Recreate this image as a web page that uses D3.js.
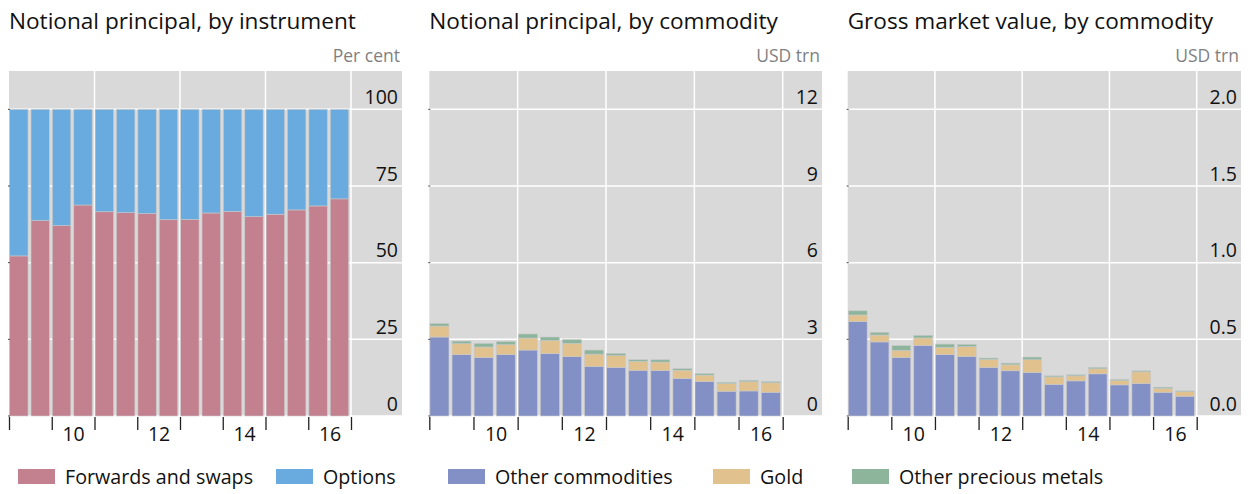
<!DOCTYPE html>
<html>
<head>
<meta charset="utf-8">
<script src="https://cdn.jsdelivr.net/npm/d3@7/dist/d3.min.js"></script>
<style>
  html, body { margin: 0; padding: 0; background: #ffffff; }
  svg { display: block; }
  text { font-family: "Open Sans", "Noto Sans", sans-serif; }
</style>
</head>
<body>
<svg id="chart" width="1252" height="494"></svg>
<script>
// ---------------- DATA ----------------
const periods = ["2009H1","2009H2","2010H1","2010H2","2011H1","2011H2","2012H1","2012H2",
                 "2013H1","2013H2","2014H1","2014H2","2015H1","2015H2","2016H1","2016H2"];

// Panel 1: notional principal by instrument, per cent
const forwardsSwaps = [52.2, 63.7, 62.1, 68.8, 66.6, 66.3, 66.0, 64.0, 64.1, 66.2, 66.7, 65.0, 65.8, 67.2, 68.5, 70.8];
const options       = [47.8, 36.3, 37.9, 31.2, 33.4, 33.7, 34.0, 36.0, 35.9, 33.8, 33.3, 35.0, 34.2, 32.8, 31.5, 29.2];

// Panel 2: notional principal by commodity, USD trn
const npOther   = [3.09, 2.40, 2.29, 2.40, 2.58, 2.44, 2.32, 1.94, 1.90, 1.79, 1.78, 1.47, 1.35, 0.97, 0.98, 0.93];
const npGold    = [0.43, 0.43, 0.41, 0.39, 0.47, 0.51, 0.52, 0.48, 0.46, 0.35, 0.33, 0.32, 0.25, 0.30, 0.36, 0.37];
const npPrec    = [0.10, 0.10, 0.14, 0.12, 0.16, 0.14, 0.15, 0.16, 0.09, 0.06, 0.09, 0.06, 0.06, 0.05, 0.06, 0.05];

// Panel 3: gross market value by commodity, USD trn
const gmOther   = [0.616, 0.483, 0.382, 0.461, 0.400, 0.389, 0.317, 0.295, 0.284, 0.207, 0.229, 0.275, 0.203, 0.212, 0.155, 0.129];
const gmGold    = [0.043, 0.045, 0.046, 0.048, 0.048, 0.063, 0.052, 0.039, 0.083, 0.048, 0.033, 0.033, 0.028, 0.076, 0.024, 0.030];
const gmPrec    = [0.027, 0.018, 0.031, 0.017, 0.021, 0.015, 0.009, 0.011, 0.017, 0.007, 0.007, 0.009, 0.007, 0.007, 0.009, 0.005];

const yTicks1 = [0, 25, 50, 75, 100];
const yTicks2 = [0, 3, 6, 9, 12];
const yTicks3 = [0, 0.5, 1.0, 1.5, 2.0];
const yLabels3 = ["0.0", "0.5", "1.0", "1.5", "2.0"];
const xTickYears  = [2009, 2010, 2011, 2012, 2013, 2014, 2015, 2016, 2017];
const xGridYears  = [2011, 2013, 2015, 2017];
const xLabelYears = [2010, 2012, 2014, 2016];
const xLabels     = ["10", "12", "14", "16"];

const titles = ["Notional principal, by instrument", "Notional principal, by commodity", "Gross market value, by commodity"];
const units  = ["Per cent", "USD trn", "USD trn"];

const seriesNames1 = ["Forwards and swaps", "Options"];
const seriesNames2 = ["Other commodities", "Gold", "Other precious metals"];

// ---------------- STYLE ----------------
const colors = {
  "Forwards and swaps": "#c38190",
  "Options": "#6aabdf",
  "Other commodities": "#8390c5",
  "Gold": "#e1c28f",
  "Other precious metals": "#8cb59c"
};
const bg = "#d9d9d9";

const svg = d3.select("#chart");

const panelTop = 71, panelBottom = 416;

function periodValue(p) {
  const yr = +p.slice(0, 4);
  const h = +p.slice(5);
  return yr + (h - 1) * 0.5;
}

function drawPanel(cfg) {
  const g = svg.append("g");
  const x = d3.scaleLinear().domain([2009, 2017]).range([cfg.left, cfg.dataRight]);
  const y = d3.scaleLinear().domain([0, cfg.yMax]).range([panelBottom, panelTop]);

  // Title
  g.append("text").attr("x", cfg.left).attr("y", 28.5)
    .attr("font-size", 22.6).attr("fill", "#111").text(cfg.title);
  // Unit label
  g.append("text").attr("x", cfg.right - 2).attr("y", 62)
    .attr("text-anchor", "end").attr("font-size", 17.5).attr("fill", "#7f7f7f").text(cfg.unit);

  // Background
  g.append("rect").attr("x", cfg.left).attr("y", panelTop)
    .attr("width", cfg.right - cfg.left).attr("height", panelBottom - panelTop).attr("fill", bg);

  // Horizontal gridlines
  g.selectAll(".hgrid").data(cfg.yTicks).enter().append("line")
    .attr("x1", cfg.left).attr("x2", cfg.right)
    .attr("y1", d => y(d)).attr("y2", d => y(d))
    .attr("stroke", "#ffffff").attr("stroke-width", 1.5);
  // Vertical gridlines
  g.selectAll(".vgrid").data(xGridYears).enter().append("line")
    .attr("x1", d => x(d)).attr("x2", d => x(d))
    .attr("y1", panelTop).attr("y2", panelBottom)
    .attr("stroke", "#ffffff").attr("stroke-width", 1.5);

  // Bars (stacked)
  const step = x(2009.5) - x(2009);
  const stack = d3.stack().keys(cfg.keys);
  const rows = periods.map((p, i) => {
    const o = { p: p };
    cfg.keys.forEach((k, j) => o[k] = cfg.series[j][i]);
    return o;
  });
  const layers = stack(rows);
  layers.forEach(layer => {
    g.append("g").selectAll("rect").data(layer).enter().append("rect")
      .attr("x", d => x(periodValue(d.data.p)) + step * 0.03)
      .attr("width", step * 0.86)
      .attr("y", d => y(d[1]))
      .attr("height", d => y(d[0]) - y(d[1]))
      .attr("fill", colors[layer.key])
      .attr("stroke", "#c9c9c9").attr("stroke-width", 0.6);
  });

  // Y tick labels (right, above gridline)
  g.selectAll(".ylab").data(cfg.yTicks).enter().append("text")
    .attr("x", cfg.right - 4).attr("y", d => y(d) - 5.5)
    .attr("text-anchor", "end").attr("font-size", 19.5).attr("fill", "#111")
    .text((d, i) => cfg.yLabels ? cfg.yLabels[i] : d);

  // small left ticks at gridlines
  g.selectAll(".lt").data(cfg.yTicks).enter().append("line")
    .attr("x1", cfg.left - 1).attr("x2", cfg.left + 1)
    .attr("y1", d => y(d)).attr("y2", d => y(d))
    .attr("stroke", "#444").attr("stroke-width", 1);

  // X axis ticks
  const xAxis = d3.axisBottom(x).tickValues(xTickYears).tickSize(13).tickFormat("");
  const ax = g.append("g").attr("transform", `translate(0,${panelBottom + 1})`).call(xAxis);
  ax.select(".domain").remove();
  ax.selectAll(".tick line").attr("stroke", "#222").attr("stroke-width", 1.3);

  // X labels at mid-year
  const xLab = d3.axisBottom(x).tickValues(xLabelYears.map(v => v + 0.5)).tickSize(0)
    .tickFormat((d, i) => xLabels[i]);
  const al = g.append("g").attr("transform", `translate(0,${panelBottom + 8})`).call(xLab);
  al.select(".domain").remove();
  al.selectAll("text").attr("font-size", 19.5).attr("fill", "#111")
    .attr("font-family", "'Open Sans', 'Noto Sans', sans-serif");
}

drawPanel({ left: 9, right: 402, dataRight: 351, yMax: 112.5, yTicks: yTicks1,
  title: titles[0], unit: units[0], keys: seriesNames1, series: [forwardsSwaps, options] });
drawPanel({ left: 429.3, right: 822, dataRight: 782.7, yMax: 13.5, yTicks: yTicks2,
  title: titles[1], unit: units[1], keys: seriesNames2, series: [npOther, npGold, npPrec] });
drawPanel({ left: 847.7, right: 1241, dataRight: 1196.7, yMax: 2.25, yTicks: yTicks3, yLabels: yLabels3,
  title: titles[2], unit: units[2], keys: seriesNames2, series: [gmOther, gmGold, gmPrec] });

// ---------------- LEGEND ----------------
const legendItems = [
  { name: "Forwards and swaps", x: 18 },
  { name: "Options", x: 276 },
  { name: "Other commodities", x: 448 },
  { name: "Gold", x: 713 },
  { name: "Other precious metals", x: 852 }
];
const lg = svg.append("g");
legendItems.forEach(it => {
  lg.append("rect").attr("x", it.x).attr("y", 469).attr("width", 37).attr("height", 15)
    .attr("fill", colors[it.name]);
  lg.append("text").attr("x", it.x + 47).attr("y", 483.5).attr("font-size", 19.7)
    .attr("fill", "#111").text(it.name);
});
</script>
</body>
</html>
